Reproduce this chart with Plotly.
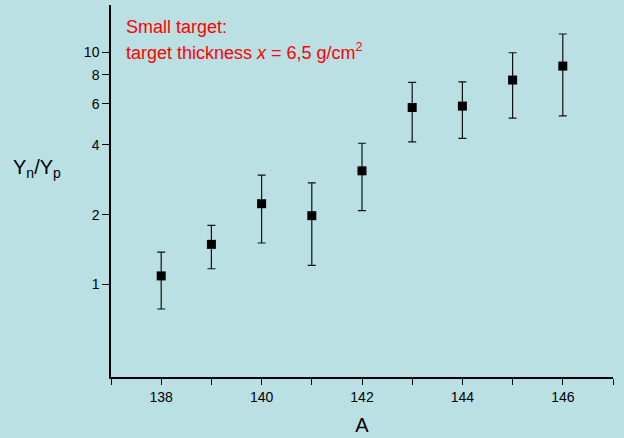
import plotly.graph_objects as go

A = [138, 139, 140, 141, 142, 143, 144, 145, 146]
ratio = [1.09, 1.49, 2.23, 1.98, 3.09, 5.79, 5.87, 7.60, 8.73]
ratio_hi = [1.38, 1.80, 2.96, 2.74, 4.06, 7.42, 7.47, 9.96, 12.0]
ratio_lo = [0.785, 1.17, 1.51, 1.21, 2.08, 4.12, 4.26, 5.21, 5.33]

y_tickvals = [1, 2, 4, 6, 8, 10]

err_plus = [h - v for h, v in zip(ratio_hi, ratio)]
err_minus = [v - l for v, l in zip(ratio, ratio_lo)]

BG = "#BAE0E3"
FONT = "Arial, Liberation Sans, sans-serif"

fig = go.Figure()
fig.add_trace(go.Scatter(
    x=A, y=ratio, mode="markers",
    marker=dict(symbol="square", size=9, color="black"),
    error_y=dict(type="data", symmetric=False, array=err_plus, arrayminus=err_minus,
                 color="#111111", thickness=1.2, width=4),
    showlegend=False,
))

fig.update_layout(
    width=624, height=438,
    margin=dict(l=111, r=11, t=5, b=61),
    paper_bgcolor=BG, plot_bgcolor=BG,
    font=dict(family=FONT, color="black", size=14),
    xaxis=dict(range=[137, 147], tickmode="linear", tick0=138, dtick=2,
               showgrid=False, zeroline=False, showline=True, linecolor="black", linewidth=1.5,
               ticks="outside", ticklen=6, tickwidth=1.2, tickcolor="black",
               minor=dict(dtick=1, tick0=137, ticks="outside", ticklen=6, tickwidth=1.2,
                          tickcolor="black", showgrid=False),
               tickfont=dict(size=14),
               title=dict(text="A", font=dict(size=20), standoff=14)),
    yaxis=dict(type="log", range=[-0.398, 1.204], tickmode="array", tickvals=y_tickvals,
               ticktext=[str(v) for v in y_tickvals],
               showgrid=False, zeroline=False, showline=True, linecolor="black", linewidth=1.5,
               ticks="outside", ticklen=7, tickwidth=1.2, tickcolor="black",
               tickfont=dict(size=14)),
)

fig.add_annotation(text="Y<sub>n</sub>/Y<sub>p</sub>", xref="paper", yref="paper",
                   x=-0.148, y=0.56, xanchor="center", yanchor="middle", showarrow=False,
                   font=dict(size=20, color="black"))
fig.add_annotation(text="Small target:", xref="paper", yref="paper",
                   x=0.026, y=0.94, xanchor="left", yanchor="middle", showarrow=False,
                   font=dict(size=18, color="red"))
fig.add_annotation(text="target thickness <i>x</i> = 6,5 g/cm<sup>2</sup>", xref="paper", yref="paper",
                   x=0.026, y=0.875, xanchor="left", yanchor="middle", showarrow=False,
                   font=dict(size=18, color="red"))

fig.write_html("out.html")
